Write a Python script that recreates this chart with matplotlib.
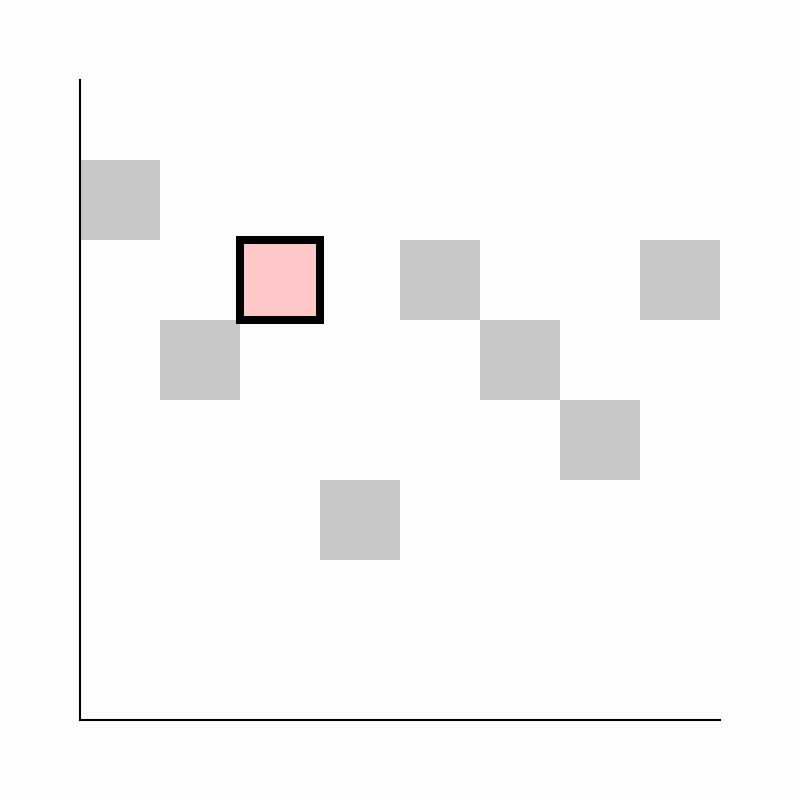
import matplotlib
matplotlib.use("Agg")
import matplotlib.pyplot as plt
from matplotlib.patches import Rectangle

# grid cells: one square per column, row counted from the bottom
columns = [0, 1, 2, 3, 4, 5, 6, 7]
rows = [6, 4, 5, 2, 5, 4, 3, 5]
highlight = 2  # column of the selected cell

fig = plt.figure(figsize=(8, 8), dpi=100)
fig.patch.set_facecolor("#fdfdfd")
ax = fig.add_axes([0.1, 0.1, 0.8, 0.8])
ax.set_facecolor("#fdfdfd")

for c, r in zip(columns, rows):
    if c == highlight:
        ax.add_patch(Rectangle((c, r), 1, 1, facecolor="#ffc8c8",
                               edgecolor="black", linewidth=5.76, zorder=3))
    else:
        ax.add_patch(Rectangle((c, r), 1, 1, facecolor="#c8c8c8",
                               edgecolor="none", zorder=2))

ax.set_xlim(0, 8)
ax.set_ylim(0, 8)
ax.set_xticks([])
ax.set_yticks([])
for side in ["top", "right"]:
    ax.spines[side].set_visible(False)
for side in ["left", "bottom"]:
    ax.spines[side].set_linewidth(1.5)

fig.savefig("out.png", dpi=100, facecolor=fig.get_facecolor())
